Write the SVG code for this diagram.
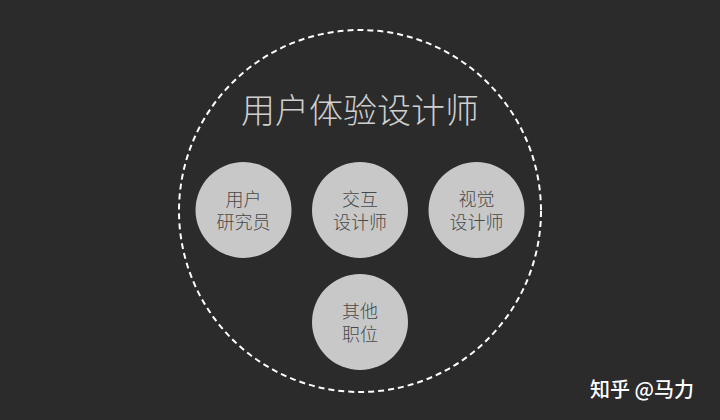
<svg xmlns="http://www.w3.org/2000/svg" width="720" height="420" viewBox="0 0 720 420">
<style>
.node{fill:#c8c8c8}
.lbl{font-family:"Noto Sans CJK SC","Noto Sans",sans-serif;font-size:18px;fill:#484848;text-anchor:middle;font-weight:300}
.title{font-family:"Noto Sans CJK SC","Noto Sans",sans-serif;font-size:34px;fill:#cfcfcf;text-anchor:middle;font-weight:300}
.wm{font-family:"Noto Sans CJK SC","Noto Sans",sans-serif;font-size:20px;fill:#ffffff;text-anchor:middle;font-weight:500}
</style>
<rect width="720" height="420" fill="#2b2b2b"/>
<g id="outer">
<circle cx="360" cy="211" r="181" fill="none" stroke="#ffffff" stroke-width="2" stroke-dasharray="6 4"/>
<text class="title" x="360" y="123">用户体验设计师</text>
</g>
<g id="connectors"></g>
<g id="n1">
<circle class="node" cx="243.5" cy="210" r="48"/>
<text class="lbl" x="243.5" y="206">用户</text>
<text class="lbl" x="243.5" y="229">研究员</text>
</g>
<g id="n2">
<circle class="node" cx="360" cy="210" r="48"/>
<text class="lbl" x="360" y="206">交互</text>
<text class="lbl" x="360" y="229">设计师</text>
</g>
<g id="n3">
<circle class="node" cx="476.5" cy="210" r="48"/>
<text class="lbl" x="476.5" y="206">视觉</text>
<text class="lbl" x="476.5" y="229">设计师</text>
</g>
<g id="n4">
<circle class="node" cx="360" cy="322" r="48"/>
<text class="lbl" x="360" y="318">其他</text>
<text class="lbl" x="360" y="341">职位</text>
</g>
<text class="wm" x="642" y="397">知乎 @马力</text>
</svg>
